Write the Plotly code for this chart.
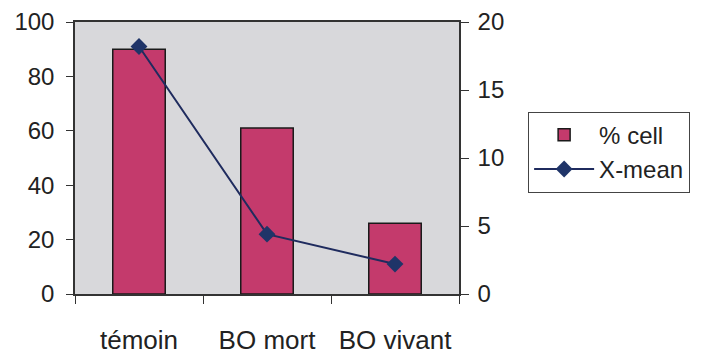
import plotly.graph_objects as go

categories = ["témoin", "BO mort", "BO vivant"]
pct_cell = [90, 61, 26]
x_mean = [18.2, 4.4, 2.2]

FONT = "Liberation Sans, Arial, sans-serif"

fig = go.Figure()
fig.add_trace(go.Bar(
    x=categories, y=pct_cell, name="% cell", width=0.41,
    marker=dict(color="#c43a6c", line=dict(color="#1a1a1a", width=1.5)),
    yaxis="y",
))
fig.add_trace(go.Scatter(
    x=categories, y=x_mean, name="X-mean", mode="lines+markers",
    line=dict(color="#1f2b5e", width=2),
    marker=dict(symbol="diamond", size=13, color="#1f3468"),
    yaxis="y2",
))

fig.update_layout(
    width=702, height=356,
    margin=dict(l=75, r=240, t=22, b=62),
    paper_bgcolor="white",
    plot_bgcolor="#d8d8db",
    font=dict(family=FONT, size=24, color="#222"),
    showlegend=True,
    legend=dict(
        x=1.18, y=0.67, xanchor="left", yanchor="top",
        bordercolor="#444", borderwidth=1, bgcolor="white",
        font=dict(size=24), tracegroupgap=2, itemwidth=60,
    ),
    bargap=0.59,
    xaxis=dict(
        type="category", range=[-0.5, 2.5], automargin=False,
        showline=True, linecolor="#333", linewidth=1.5, mirror=True,
        ticks="outside", ticklen=8, tickcolor="#333", tickson="boundaries",
        ticklabelstandoff=22, showgrid=False, tickfont=dict(size=26),
    ),
    yaxis=dict(
        range=[0, 100], tickvals=[0, 20, 40, 60, 80, 100], automargin=False,
        showline=True, linecolor="#333", linewidth=1.5, mirror=True,
        ticks="outside", ticklen=7, tickcolor="#333",
        ticklabelstandoff=7, showgrid=False, zeroline=False,
    ),
    yaxis2=dict(
        range=[0, 20], tickvals=[0, 5, 10, 15, 20], automargin=False,
        overlaying="y", side="right",
        showline=True, linecolor="#333", linewidth=1.5,
        ticks="outside", ticklen=8, tickcolor="#333",
        ticklabelstandoff=4, showgrid=False, zeroline=False,
    ),
)

fig.write_html("out.html")
